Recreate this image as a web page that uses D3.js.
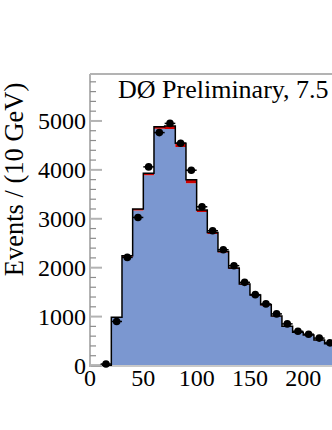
<!DOCTYPE html>
<html>
<head>
<meta charset="utf-8">
<script src="https://cdn.jsdelivr.net/npm/d3@7"></script>
<style>
  html, body { margin: 0; padding: 0; background: #fff; }
  svg { display: block; }
</style>
</head>
<body>
<div id="chart"></div>
<script>
// ---- data (bins of 10 GeV, lower edges) ----
const binLow = [0,10,20,30,40,50,60,70,80,90,100,110,120,130,140,150,160,170,180,190,200,210,220];
const binWidth = 10;
// main background (blue)
const mcMain = [0,5,975,2225,3170,3890,4840,4833,4470,3726,3138,2691,2308,1973,1652,1425,1228,1000,792,673,619,515,440];
// small extra component (red)
const mcExtra = [0,0,10,20,28,40,40,65,75,70,40,30,25,20,15,15,12,10,8,7,6,5,5];
// data points (bin centres)
const dataX = [15,25,35,45,55,65,75,85,95,105,115,125,135,145,155,165,175,185,195,205,215,225];
const dataY = [30,900,2210,3027,4061,4762,4950,4545,3993,3245,2755,2367,2041,1700,1449,1259,1055,851,700,640,560,463];
// axis ticks
const yMajorTicks = [0,1000,2000,3000,4000,5000];
const xTickLabels = [0,50,100,150,200];
const titleText = "DØ Preliminary, 7.5";
const yTitle = "Events / (10 GeV)";

// pick an installed serif font (Times-like)
function pickFont(cands) {
  const c = document.createElement("canvas").getContext("2d");
  const probe = "Events / (10 GeV) 0123456789 Preliminary";
  c.font = "40px monospace"; const wm = c.measureText(probe).width;
  c.font = "40px sans-serif"; const ws = c.measureText(probe).width;
  for (const f of cands) {
    c.font = "40px '" + f + "', monospace"; const a = c.measureText(probe).width;
    c.font = "40px '" + f + "', sans-serif"; const b = c.measureText(probe).width;
    if (a !== wm || b !== ws) return "'" + f + "'";
  }
  return "serif";
}
const FONT = pickFont(["Liberation Serif", "Times New Roman", "Tinos", "DejaVu Serif", "Noto Serif"]);

const W = 332, H = 430;
const svg = d3.select("#chart").append("svg").attr("width", W).attr("height", H)
  .style("font-family", FONT);

const x = d3.scaleLinear().domain([0, 250]).range([90, 356.6]);
const y = d3.scaleLinear().domain([0, 5960]).range([365.5, 74]);

// stacked step data
const pts = binLow.map((lo, i) => ({x: lo, a: mcMain[i], b: mcMain[i] + mcExtra[i]}));
const last = pts[pts.length - 1];
pts.push({x: last.x + binWidth, a: last.a, b: last.b});

const areaMain = d3.area().curve(d3.curveStepAfter)
  .x(d => x(d.x)).y0(y(0)).y1(d => y(d.a));
const areaExtra = d3.area().curve(d3.curveStepAfter)
  .x(d => x(d.x)).y0(d => y(d.a)).y1(d => y(d.b));
const lineTot = d3.line().curve(d3.curveStepAfter)
  .x(d => x(d.x)).y(d => y(d.b));

svg.append("path").attr("d", areaMain(pts)).attr("fill", "#7b97d0");
svg.append("path").attr("d", areaExtra(pts)).attr("fill", "#cc0000");

// frame / axes lines
const axisColor = "#b3b3b3";
svg.append("line").attr("x1", x(0)).attr("x2", W).attr("y1", y(5960)).attr("y2", y(5960))
  .attr("stroke", axisColor).attr("stroke-width", 2);
svg.append("line").attr("x1", x(0)).attr("x2", W).attr("y1", y(0)+0.5).attr("y2", y(0)+0.5)
  .attr("stroke", "#c8c8c8").attr("stroke-width", 2);

// total outline
svg.append("path").attr("d", lineTot(pts)).attr("fill", "none")
  .attr("stroke", "#000").attr("stroke-width", 1.5);

// y axis
svg.append("line").attr("x1", x(0)).attr("x2", x(0)).attr("y1", y(5960)).attr("y2", y(0)+1.5)
  .attr("stroke", axisColor).attr("stroke-width", 2);
const minorTicks = d3.range(0, 5960, 200).filter(v => v % 1000 !== 0);
svg.selectAll("line.minor").data(minorTicks).enter().append("line")
  .attr("x1", x(0)).attr("x2", x(0) + 6)
  .attr("y1", d => y(d)).attr("y2", d => y(d))
  .attr("stroke", "#8c8c8c").attr("stroke-width", 1.2);
svg.selectAll("line.major").data(yMajorTicks).enter().append("line")
  .attr("x1", x(0)).attr("x2", x(0) + 12)
  .attr("y1", d => y(d)).attr("y2", d => y(d))
  .attr("stroke", axisColor).attr("stroke-width", 2);
svg.selectAll("text.ylab").data(yMajorTicks).enter().append("text")
  .style("font-family", FONT)
  .attr("x", x(0) - 4).attr("y", d => y(d)).attr("dy", "0.34em")
  .attr("text-anchor", "end").attr("font-size", 24).text(d => d);

// x labels
svg.selectAll("text.xlab").data(xTickLabels).enter().append("text")
  .style("font-family", FONT)
  .attr("x", d => x(d)).attr("y", 386)
  .attr("text-anchor", "middle").attr("font-size", 24).text(d => d);

// data points
const g = svg.append("g");
dataX.forEach((cx, i) => {
  const v = dataY[i];
  g.append("line").attr("x1", x(cx - 5)).attr("x2", x(cx + 5))
    .attr("y1", y(v)).attr("y2", y(v)).attr("stroke", "#000").attr("stroke-width", 1.5);
  const e = Math.sqrt(v);
  g.append("line").attr("x1", x(cx)).attr("x2", x(cx))
    .attr("y1", y(v - e)).attr("y2", y(v + e)).attr("stroke", "#000").attr("stroke-width", 1.5);
  g.append("circle").attr("cx", x(cx)).attr("cy", y(v)).attr("r", 3.8).attr("fill", "#000");
});

// title
svg.append("text").style("font-family", FONT)
  .attr("x", 118).attr("y", 98).attr("font-size", 26).text(titleText);

// y title
svg.append("text").style("font-family", FONT)
  .attr("transform", "translate(23,179.5) rotate(-90)")
  .attr("text-anchor", "middle").attr("font-size", 26.5).text(yTitle);
</script>
</body>
</html>
